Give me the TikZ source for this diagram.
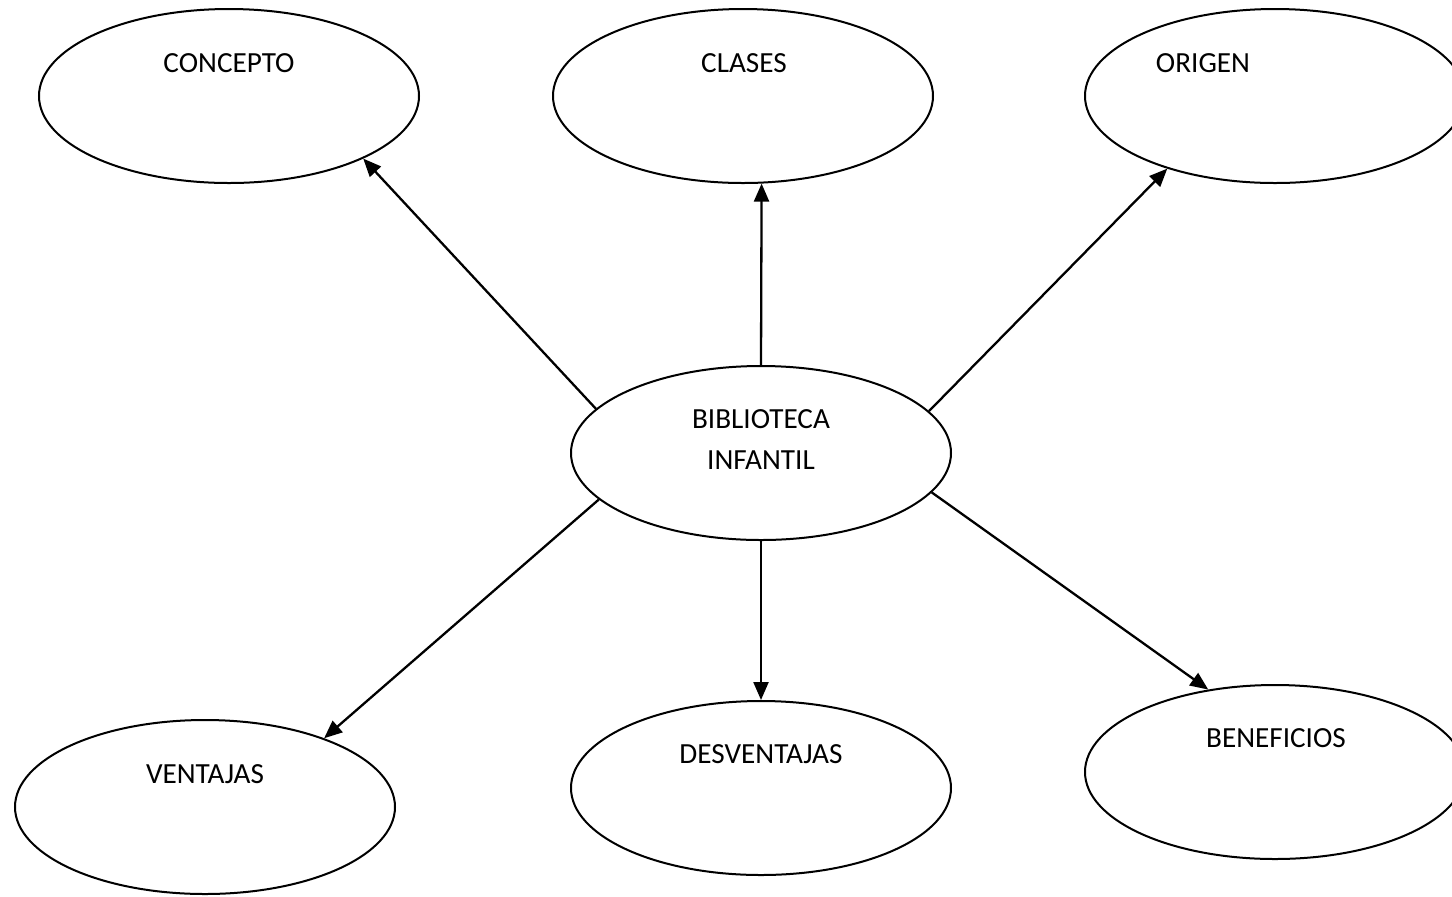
\documentclass[tikz,border=0pt]{standalone}
\usepackage{fontspec}
\setmainfont{Carlito}
\usetikzlibrary{shapes.geometric,arrows.meta}
\tikzset{
  oval/.style={draw,ellipse,line width=1pt,minimum width=190pt,minimum height=87pt,inner sep=0pt},
  word/.style={anchor=base,inner sep=0pt,font=\fontsize{14.6}{17}\selectfont}
}
\begin{document}
\begin{tikzpicture}[x=0.5pt,y=-0.5pt]
      \useasboundingbox (0,0) rectangle (1452,896);
      \draw
        (229,96) node[oval] (concepto){}
        (743,96) node[oval] (clases){}
        (1275,96) node[oval] (origen){}
        (761,453) node[oval] (bib){}
        (205,807) node[oval] (ventajas){}
        (761,788) node[oval] (desventajas){}
        (1275,772) node[oval] (beneficios){};
      \draw
        (229,72) node[word] (t1){CONCEPTO}
        (744,72) node[word] (t2){CLASES}
        (1203,72) node[word] (t3){ORIGEN}
        (761,428) node[word] (t4){BIBLIOTECA}
        (761,469) node[word] (t5){INFANTIL}
        (205,783) node[word] (t6){VENTAJAS}
        (761,763) node[word] (t7){DESVENTAJAS}
        (1276,747) node[word] (t8){BENEFICIOS};
      \begin{scope}[-{Triangle[length=9pt,width=7.5pt]},line width=1.15pt]
        \draw (bib.165) to (concepto.-25.6);
        \draw (bib.90) to (clases.-78.6);
        \draw (bib.14.4) to (origen.214.2);
        \draw (bib.196) to (ventajas.30.5);
        \draw (bib.270) to (desventajas.90);
        \draw (bib.-13.2) to (beneficios.129.8);
      \end{scope}
    \end{tikzpicture}
\end{document}
